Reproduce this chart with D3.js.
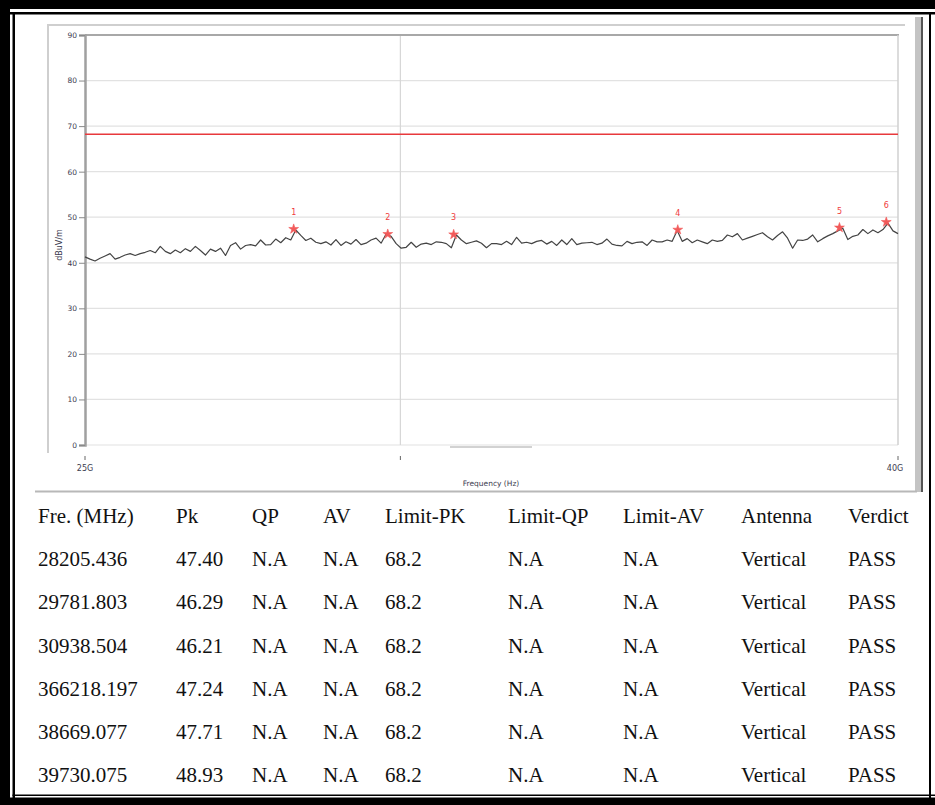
<!DOCTYPE html>
<html><head><meta charset="utf-8">
<script src="https://cdn.jsdelivr.net/npm/d3@7"></script>
<style>
body{margin:0;background:#fff;}
svg{display:block;}
</style></head>
<body>
<svg id="c" width="935" height="805"></svg>
<script>
// ---- data ----
const yTicks = [0,10,20,30,40,50,60,70,80,90];
const xTickFreqs = [25000, 30000, 40000];
const xTickLabels = ["25G", "", "40G"];
const limitPK = 68.2;
// trace levels (dBuV/m), sweep points evenly spaced along the 25G-40G sweep
const traceLevels = [
41.3,40.8,40.4,41.0,41.5,42.0,40.8,41.2,41.7,42.0,
41.6,42.0,42.3,42.7,42.2,43.6,42.5,42.0,42.8,42.2,
43.1,42.5,43.6,42.7,41.7,43.0,42.5,43.2,41.6,43.8,
44.4,43.0,43.8,44.0,43.7,45.0,43.9,44.0,45.2,44.4,
45.5,45.0,47.2,46.0,44.9,45.4,44.5,44.2,44.6,43.9,
45.1,43.8,44.6,44.1,45.1,44.0,44.3,45.0,45.4,44.3,
46.3,45.8,44.2,43.2,43.4,44.5,43.4,44.1,44.3,44.0,
44.6,44.5,44.2,43.3,46.1,45.0,44.2,44.5,44.8,44.3,
43.3,44.2,44.2,44.0,44.7,44.0,45.6,44.3,44.5,44.2,
44.7,44.9,44.1,44.7,43.8,45.0,44.0,45.3,44.0,44.3,
44.4,44.5,44.0,44.3,45.2,44.1,43.8,43.7,44.7,44.2,
44.5,44.6,43.8,45.0,44.6,44.6,45.0,44.7,47.1,44.7,
45.3,44.4,45.0,44.6,44.2,45.0,44.7,44.9,46.1,45.7,
46.4,45.0,45.4,45.8,46.2,46.6,45.7,45.0,46.0,46.8,
45.4,43.2,45.0,44.9,45.2,46.1,44.6,45.3,45.9,46.4,
47.0,47.6,45.1,45.8,46.1,47.3,46.4,47.2,46.6,47.3,
48.7,47.0,46.4
];
// marker positions (MHz) as plotted, and peak levels
const markerIds = ["1","2","3","4","5","6"];
const markerFreqs = [28205.436, 29781.803, 30938.504, 35218.197, 38669.077, 39730.075];
const markerLevels = [47.40, 46.29, 46.21, 47.24, 47.71, 48.93];
// table
const tableHeader = ["Fre. (MHz)","Pk","QP","AV","Limit-PK","Limit-QP","Limit-AV","Antenna","Verdict"];
const colFreq = ["28205.436","29781.803","30938.504","366218.197","38669.077","39730.075"];
const colPk = ["47.40","46.29","46.21","47.24","47.71","48.93"];
const colQP = ["N.A","N.A","N.A","N.A","N.A","N.A"];
const colAV = ["N.A","N.A","N.A","N.A","N.A","N.A"];
const colLimPK = ["68.2","68.2","68.2","68.2","68.2","68.2"];
const colLimQP = ["N.A","N.A","N.A","N.A","N.A","N.A"];
const colLimAV = ["N.A","N.A","N.A","N.A","N.A","N.A"];
const colAnt = ["Vertical","Vertical","Vertical","Vertical","Vertical","Vertical"];
const colVerdict = ["PASS","PASS","PASS","PASS","PASS","PASS"];

// ---- drawing ----
const svg = d3.select("#c");
const L = 85, R = 898, T = 35, B = 445;
const x = d3.scaleLog().domain([25000, 40000]).range([L, R]);
const y = d3.scaleLinear().domain([0, 90]).range([B, T]);
const chartFont = "'DejaVu Sans', Verdana, sans-serif";
const txtCol = "#3c3c50";

// document borders
const frame = svg.append("g");
frame.append("rect").attr("x",0).attr("y",0).attr("width",935).attr("height",9).attr("fill","#000");
frame.append("rect").attr("x",0).attr("y",12).attr("width",935).attr("height",2.5).attr("fill","#000");
frame.append("rect").attr("x",0).attr("y",0).attr("width",10).attr("height",805).attr("fill","#000");
frame.append("rect").attr("x",12.5).attr("y",12).attr("width",2.5).attr("height",786).attr("fill","#000");
frame.append("rect").attr("x",0).attr("y",797.5).attr("width",935).attr("height",7.5).attr("fill","#000");
frame.append("rect").attr("x",12.5).attr("y",794.5).attr("width",922.5).attr("height",1.5).attr("fill","#000");
frame.append("rect").attr("x",929).attr("y",12).attr("width",2).attr("height",786).attr("fill","#000");

// screenshot frame pieces
const sf = svg.append("g");
sf.append("line").attr("x1",47).attr("x2",905).attr("y1",25).attr("y2",25).attr("stroke","#cfcfcf").attr("stroke-width",2);
sf.append("line").attr("x1",48).attr("x2",48).attr("y1",24).attr("y2",453).attr("stroke","#cfcfcf").attr("stroke-width",2);
sf.append("rect").attr("x",915).attr("y",17).attr("width",6).attr("height",475).attr("fill","#c4c4c4");
sf.append("rect").attr("x",921).attr("y",17).attr("width",2).attr("height",475).attr("fill","#555");
sf.append("line").attr("x1",35).attr("x2",917).attr("y1",491.5).attr("y2",491.5).attr("stroke","#b8b8b8").attr("stroke-width",2);
sf.append("line").attr("x1",450).attr("x2",532).attr("y1",447).attr("y2",447).attr("stroke","#d2d2d2").attr("stroke-width",2);

// gridlines
const grid = svg.append("g");
grid.selectAll("line.h").data(yTicks.filter(v=>v<90)).join("line")
  .attr("x1",L).attr("x2",R).attr("y1",d=>y(d)).attr("y2",d=>y(d))
  .attr("stroke","#e2e2e2").attr("stroke-width",1.2);
grid.append("line").attr("x1",x(30000)).attr("x2",x(30000)).attr("y1",T).attr("y2",B)
  .attr("stroke","#d6d6d6").attr("stroke-width",1.2);
// plot box
grid.append("line").attr("x1",L).attr("x2",R+1).attr("y1",T).attr("y2",T).attr("stroke","#a8a8a8").attr("stroke-width",2);
grid.append("line").attr("x1",R).attr("x2",R).attr("y1",T).attr("y2",B).attr("stroke","#d0d0d0").attr("stroke-width",1.5);

// y axis
const yAxis = d3.axisLeft(y).tickValues(yTicks).tickSize(6).tickPadding(2).tickFormat(d3.format("d"));
const ga = svg.append("g").attr("transform",`translate(${L},0)`).call(yAxis);
ga.select(".domain").attr("stroke","#a0a0a0").attr("stroke-width",2.5);
ga.selectAll(".tick line").attr("stroke","#8a8a8a");
ga.selectAll(".tick text").attr("font-family",chartFont).attr("font-size",7.5).attr("fill",txtCol);
svg.append("text").attr("transform","translate(62,245) rotate(-90)").attr("text-anchor","middle")
  .attr("font-family",chartFont).attr("font-size",8).attr("fill",txtCol).text("dBuV/m");

// x axis ticks and labels (detached)
const gx = svg.append("g");
gx.selectAll("line").data(xTickFreqs).join("line")
  .attr("x1",d=>x(d)).attr("x2",d=>x(d)).attr("y1",456).attr("y2",460)
  .attr("stroke","#666").attr("stroke-width",1);
gx.selectAll("text").data(xTickFreqs).join("text")
  .attr("x",(d,i)=>x(d)+(i===2?-3:0)).attr("y",471).attr("text-anchor","middle")
  .attr("font-family",chartFont).attr("font-size",8).attr("fill",txtCol)
  .text((d,i)=>xTickLabels[i]);
svg.append("text").attr("x",491).attr("y",486).attr("text-anchor","middle")
  .attr("font-family",chartFont).attr("font-size",7.5).attr("fill",txtCol).text("Frequency (Hz)");

// limit line
svg.append("line").attr("x1",L).attr("x2",R).attr("y1",y(limitPK)).attr("y2",y(limitPK))
  .attr("stroke","#e8393c").attr("stroke-width",1.4);

// trace
const n = traceLevels.length;
const sweep = d3.scaleLinear().domain([0, n-1]).range([Math.log(25000), Math.log(40000)]);
const line = d3.line().x((d,i)=>x(Math.exp(sweep(i)))).y(d=>y(d));
svg.append("path").datum(traceLevels).attr("d",line)
  .attr("fill","none").attr("stroke","#444").attr("stroke-width",1.2).attr("stroke-linejoin","round");

// markers
const mk = svg.append("g");
mk.selectAll("path").data(markerFreqs).join("path")
  .attr("transform",(d,i)=>`translate(${x(d)},${y(markerLevels[i])})`)
  .attr("d",d3.symbol().type(d3.symbolStar).size(30))
  .attr("fill","#f25a5a").attr("stroke","#f25a5a").attr("stroke-width",0.6);
mk.selectAll("text").data(markerFreqs).join("text")
  .attr("x",d=>x(d)).attr("y",(d,i)=>y(markerLevels[i])-14).attr("text-anchor","middle")
  .attr("font-family",chartFont).attr("font-size",8).attr("fill","#f03c3c")
  .text((d,i)=>markerIds[i]);

// table
const colX = [38,176,252,323,385,508,623,741,848];
const columns = [colFreq,colPk,colQP,colAV,colLimPK,colLimQP,colLimAV,colAnt,colVerdict];
const rowY = d3.range(7).map(k=>516 + k*43.2);
const tf = "'Liberation Serif','Times New Roman',serif";
const tg = svg.append("g").attr("font-family",tf).attr("font-size",21).attr("fill","#111");
tg.selectAll("text.h").data(tableHeader).join("text").attr("class","h")
  .attr("x",(d,i)=>colX[i]).attr("y",rowY[0]+7).text(d=>d);
columns.forEach((col,ci)=>{
  tg.selectAll(`text.c${ci}`).data(col).join("text").attr("class",`c${ci}`)
    .attr("x",colX[ci]).attr("y",(d,ri)=>rowY[ri+1]+7).text(d=>d);
});
</script>
</body></html>
